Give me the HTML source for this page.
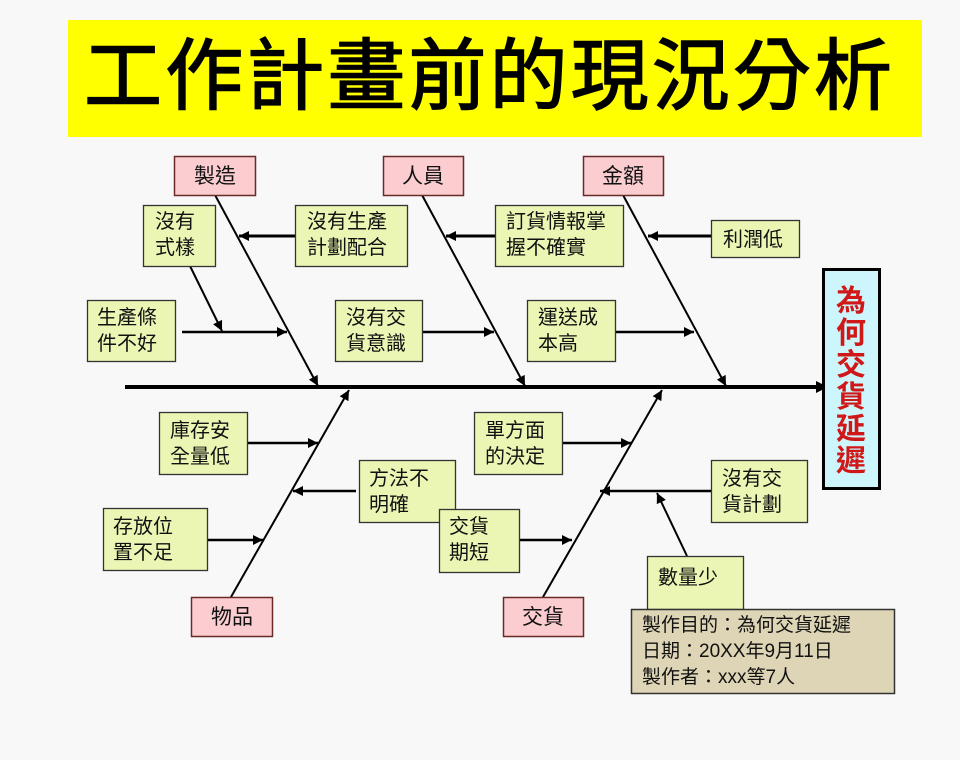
<!DOCTYPE html>
<html><head><meta charset="utf-8"><style>
html,body{margin:0;padding:0;background:#f8f8f8;}
svg{display:block;}
text{font-family:"Liberation Sans","Noto Sans CJK TC",sans-serif;}
</style></head><body>
<svg width="960" height="760" viewBox="0 0 960 760" xmlns="http://www.w3.org/2000/svg">
<defs>
<marker id="ab" viewBox="0 0 10 10" refX="10" refY="5" markerWidth="16" markerHeight="12" orient="auto" markerUnits="userSpaceOnUse">
<path d="M0,0 L10,5 L0,10 z" fill="#000"/></marker>
<marker id="as" viewBox="0 0 10 10" refX="10" refY="5" markerWidth="15" markerHeight="10" orient="auto" markerUnits="userSpaceOnUse">
<path d="M0,0 L10,5 L0,10 z" fill="#000"/></marker>
</defs>
<rect width="960" height="760" fill="#f8f8f8"/>
<rect x="68" y="20" width="854" height="117" fill="#ffff00"/>
<text x="84" y="103" font-size="78" textLength="808" lengthAdjust="spacing" fill="#000" stroke="#000" stroke-width="1.5">工作計畫前的現況分析</text>

<line x1="125" y1="387" x2="828" y2="387" stroke="#000" stroke-width="4" marker-end="url(#ab)"/>

<rect x="823.5" y="269.5" width="56" height="219" fill="#ccf6fb" stroke="#000" stroke-width="3"/>
<g font-size="30" font-weight="bold" fill="#d01818" text-anchor="middle">
<text x="851" y="311">為</text><text x="851" y="343">何</text><text x="851" y="375">交</text>
<text x="851" y="407">貨</text><text x="851" y="439">延</text><text x="851" y="471">遲</text>
</g>

<g stroke="#000" stroke-width="2" fill="none">
<line x1="215" y1="195" x2="318" y2="386" marker-end="url(#as)"/>
<line x1="422" y1="195" x2="525" y2="386" marker-end="url(#as)"/>
<line x1="623" y1="195" x2="726" y2="386" marker-end="url(#as)"/>
<line x1="231" y1="597" x2="349" y2="390" marker-end="url(#as)"/>
<line x1="543" y1="597" x2="662" y2="390" marker-end="url(#as)"/>
<line x1="295" y1="236" x2="239" y2="236" stroke-width="3" marker-end="url(#as)"/>
<line x1="495" y1="236" x2="446" y2="236" stroke-width="3" marker-end="url(#as)"/>
<line x1="711" y1="236" x2="648" y2="236" stroke-width="3" marker-end="url(#as)"/>
<line x1="190" y1="266" x2="222" y2="331" marker-end="url(#as)"/>
<line x1="182" y1="332" x2="287" y2="332" stroke-width="2.5" marker-end="url(#as)"/>
<line x1="414" y1="332" x2="494" y2="332" stroke-width="2.5" marker-end="url(#as)"/>
<line x1="607" y1="332" x2="694" y2="332" stroke-width="2.5" marker-end="url(#as)"/>
<line x1="246" y1="443" x2="318" y2="443" stroke-width="2.5" marker-end="url(#as)"/>
<line x1="356" y1="491" x2="293" y2="491" stroke-width="2.5" marker-end="url(#as)"/>
<line x1="191" y1="540" x2="263" y2="540" stroke-width="2.5" marker-end="url(#as)"/>
<line x1="559" y1="443" x2="631" y2="443" stroke-width="2.5" marker-end="url(#as)"/>
<line x1="500" y1="540" x2="572" y2="540" stroke-width="2.5" marker-end="url(#as)"/>
<line x1="711" y1="491" x2="600" y2="491" stroke-width="2.5" marker-end="url(#as)"/>
<line x1="687" y1="556" x2="657" y2="493" marker-end="url(#as)"/>
</g>

<g fill="#fbcdd0" stroke="#6a2a2a" stroke-width="1.5">
<rect x="174.5" y="156.5" width="81" height="39"/>
<rect x="383.5" y="156.5" width="80" height="39"/>
<rect x="583.5" y="156.5" width="80" height="39"/>
<rect x="191.5" y="597.5" width="81" height="39"/>
<rect x="503.5" y="597.5" width="80" height="39"/>
</g>
<g font-size="21" fill="#111" text-anchor="middle">
<text x="215" y="183">製造</text>
<text x="423" y="183">人員</text>
<text x="623" y="183">金額</text>
<text x="232" y="624">物品</text>
<text x="543" y="624">交貨</text>
</g>

<g fill="#ebf6b4" stroke="#333" stroke-width="1.3">
<rect x="143.5" y="205.5" width="72" height="61"/>
<rect x="295.5" y="205.5" width="112" height="61"/>
<rect x="495.5" y="205.5" width="128" height="61"/>
<rect x="711.5" y="220.5" width="88" height="37"/>
<rect x="87.5" y="300.5" width="88" height="61"/>
<rect x="335.5" y="300.5" width="87" height="61"/>
<rect x="527.5" y="300.5" width="88" height="61"/>
<rect x="159.5" y="412.5" width="88" height="62"/>
<rect x="474.5" y="412.5" width="88" height="62"/>
<rect x="359.5" y="460.5" width="96" height="62"/>
<rect x="711.5" y="460.5" width="96" height="62"/>
<rect x="103.5" y="508.5" width="104" height="62"/>
<rect x="439.5" y="509.5" width="80" height="63"/>
<rect x="647.5" y="556.5" width="96" height="53"/>
</g>
<g font-size="20" fill="#111">
<text x="155" y="228">沒有</text><text x="155" y="254">式樣</text>
<text x="307" y="228">沒有生產</text><text x="307" y="254">計劃配合</text>
<text x="506" y="228">訂貨情報掌</text><text x="506" y="254">握不確實</text>
<text x="723" y="246">利潤低</text>
<text x="97" y="324">生產條</text><text x="97" y="350">件不好</text>
<text x="346" y="324">沒有交</text><text x="346" y="350">貨意識</text>
<text x="538" y="324">運送成</text><text x="538" y="350">本高</text>
<text x="170" y="437">庫存安</text><text x="170" y="463">全量低</text>
<text x="485" y="437">單方面</text><text x="485" y="463">的決定</text>
<text x="369" y="485">方法不</text><text x="369" y="511">明確</text>
<text x="722" y="485">沒有交</text><text x="722" y="511">貨計劃</text>
<text x="113" y="533">存放位</text><text x="113" y="559">置不足</text>
<text x="449" y="533">交貨</text><text x="449" y="559">期短</text>
<text x="658" y="584">數量少</text>
</g>

<rect x="631.5" y="609.5" width="263" height="84" fill="#ddd5b5" stroke="#333" stroke-width="1.5"/>
<g font-size="19" fill="#111">
<text x="642" y="631">製作目的：為何交貨延遲</text>
<text x="642" y="657">日期：20XX年9月11日</text>
<text x="642" y="683">製作者：xxx等7人</text>
</g>
</svg>
</body></html>
